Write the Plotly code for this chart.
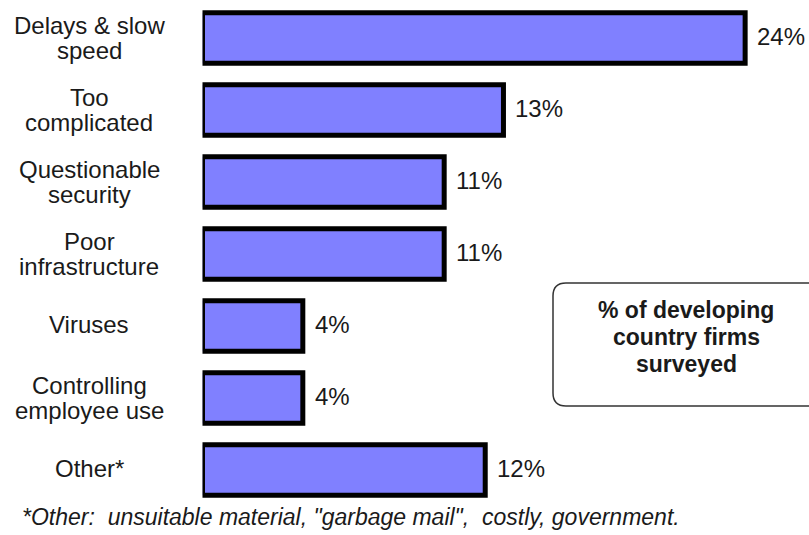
import plotly.graph_objects as go

# ---- data ----
categories = ["Delays & slow<br>speed", "Too<br>complicated", "Questionable<br>security",
              "Poor<br>infrastructure", "Viruses", "Controlling<br>employee use", "Other*"]
# bar lengths (labels are rounded values)
values = [23.8, 13.2, 10.6, 10.6, 4.4, 4.4, 12.4]
value_labels = ["24%", "13%", "11%", "11%", "4%", "4%", "12%"]
box_lines = ["% of developing", "country firms", "surveyed"]
footnote = "*Other:\u00a0 unsuitable material, \"garbage mail\",\u00a0 costly, government."

W, H = 809, 535
FONT = "Liberation Sans, Arial, sans-serif"
TXT = "#1a1a1a"

def px(x):
    return x / W

def py(y):
    return (H - y) / H

idx = list(range(len(categories)))

fig = go.Figure()
fig.add_trace(go.Bar(
    x=values, y=idx, orientation="h", width=0.7,
    marker=dict(color="#8080FF", line=dict(color="#000000", width=5)),
    hoverinfo="skip", showlegend=False,
))

annotations = []
for i, cat in enumerate(categories):
    lines = cat.split("<br>")
    shifts = [13, -12] if len(lines) == 2 else [2]
    for ln, sh in zip(lines, shifts):
        annotations.append(dict(
            x=px(89), xref="paper", y=i, yref="y", yshift=sh,
            text=ln, showarrow=False, xanchor="center", yanchor="middle",
            font=dict(family=FONT, size=24, color=TXT),
        ))
for i, (v, lab) in enumerate(zip(values, value_labels)):
    annotations.append(dict(
        x=v, xref="x", y=i, yref="y", xshift=10, yshift=2,
        text=lab, showarrow=False, xanchor="left", yanchor="middle",
        font=dict(family=FONT, size=24, color=TXT),
    ))
for ln, yc in zip(box_lines, [310, 337, 364]):
    annotations.append(dict(
        x=px(686), xref="paper", y=py(yc), yref="paper",
        text="<b>" + ln + "</b>", showarrow=False, xanchor="center", yanchor="middle",
        font=dict(family=FONT, size=23, color=TXT),
    ))
annotations.append(dict(
    x=px(20), xref="paper", y=py(517), yref="paper",
    text="<i>" + footnote + "</i>", showarrow=False, xanchor="left", yanchor="middle",
    font=dict(family=FONT, size=23, color=TXT),
))

L, T, R, B, r = 553, 283, 830, 406, 13
path = (f"M {px(L+r)},{py(T)} L {px(R)},{py(T)} L {px(R)},{py(B)} L {px(L+r)},{py(B)} "
        f"Q {px(L)},{py(B)} {px(L)},{py(B-r)} L {px(L)},{py(T+r)} Q {px(L)},{py(T)} {px(L+r)},{py(T)} Z")

x_per_px = 22.8
x0 = 202.5
fig.update_layout(
    width=W, height=H,
    margin=dict(l=0, r=0, t=0, b=0),
    paper_bgcolor="white", plot_bgcolor="white",
    xaxis=dict(domain=[x0 / W, 1], range=[0, (W - x0) / x_per_px],
               visible=False, fixedrange=True),
    yaxis=dict(domain=[0, 1], range=[(H - 38) / 72.0, -38 / 72.0],
               visible=False, fixedrange=True),
    annotations=annotations,
    shapes=[dict(type="path", path=path, xref="paper", yref="paper",
                 line=dict(color="#333333", width=1.5), fillcolor="rgba(0,0,0,0)")],
)

fig.write_html("out.html", config={"displayModeBar": False})
